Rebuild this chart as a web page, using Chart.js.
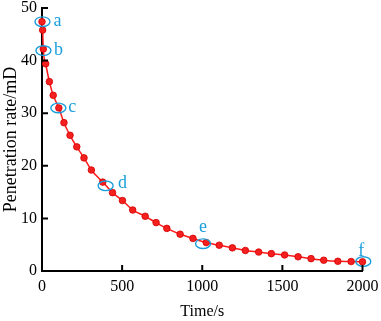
<!DOCTYPE html>
<html>
<head>
<meta charset="utf-8">
<script src="https://cdn.jsdelivr.net/npm/chart.js@4"></script>
<style>
  html, body { margin: 0; padding: 0; background: #fff; }
  #wrap { width: 381px; height: 321px; }
</style>
</head>
<body>
<div id="wrap"><canvas id="rateChart" width="381" height="321"></canvas></div>
<script>
// measured points, time (s) and penetration rate (mD)
const times = [0, 4, 8, 23, 46, 70, 105, 137, 175, 217, 262, 308, 379, 440, 502, 566, 644, 712, 779, 862, 942, 1025, 1106, 1188, 1269, 1352, 1431, 1514, 1598, 1679, 1758, 1846, 1929, 2000];
const rates = [47.4, 45.8, 42.2, 39.4, 36.0, 33.4, 31.0, 28.2, 25.8, 23.6, 21.5, 19.2, 16.9, 14.9, 13.4, 11.6, 10.4, 9.2, 8.1, 7.0, 6.2, 5.4, 4.9, 4.4, 3.9, 3.6, 3.3, 3.05, 2.7, 2.35, 2.05, 1.85, 1.8, 1.75];

// circled points
const markLabels = ['a', 'b', 'c', 'd', 'e', 'f'];
const markTimes = [3, 9, 102, 397, 1005, 2005];
const markRates = [47.4, 41.9, 31.0, 16.2, 5.2, 1.8];

const xTicks = [0, 500, 1000, 1500, 2000];
const yTicks = [0, 10, 20, 30, 40, 50];

const serif = '"Liberation Serif", "Times New Roman", serif';
const cyan = '#1a9edb';

// ticks pointing into the plot
const inwardTicks = {
  id: 'inwardTicks',
  afterDraw(chart) {
    const { ctx, scales: { x, y } } = chart;
    ctx.save();
    ctx.strokeStyle = '#000';
    ctx.lineWidth = 2;
    ctx.beginPath();
    xTicks.forEach(v => {
      if (v === 0) return;
      const px = x.getPixelForValue(v);
      ctx.moveTo(px, y.bottom);
      ctx.lineTo(px, y.bottom - 6);
    });
    yTicks.forEach(v => {
      if (v === 0) return;
      const py = y.getPixelForValue(v);
      ctx.moveTo(x.left, py);
      ctx.lineTo(x.left + 6, py);
    });
    ctx.stroke();
    ctx.restore();
  }
};

// ellipses and letters
const marks = {
  id: 'marks',
  afterDatasetsDraw(chart, args, opts) {
    const { ctx, scales: { x, y } } = chart;
    ctx.save();
    ctx.strokeStyle = cyan;
    ctx.fillStyle = cyan;
    ctx.lineWidth = 1.4;
    ctx.font = '18px ' + serif;
    ctx.textAlign = 'center';
    ctx.textBaseline = 'middle';
    markLabels.forEach((lab, i) => {
      const px = x.getPixelForValue(markTimes[i]);
      const py = y.getPixelForValue(markRates[i]);
      ctx.beginPath();
      ctx.ellipse(px, py, 7.5, 4.8, 0, 0, Math.PI * 2);
      ctx.stroke();
      const off = opts.offsets[i];
      ctx.fillText(lab, px + off[0], py + off[1]);
    });
    ctx.restore();
  }
};

new Chart(document.getElementById('rateChart'), {
  type: 'scatter',
  data: {
    datasets: [{
      data: times.map((t, i) => ({ x: t, y: rates[i] })),
      showLine: true,
      borderColor: '#ff1a1a',
      borderWidth: 1.5,
      tension: 0.3,
      cubicInterpolationMode: 'monotone',
      pointRadius: 3.3,
      pointBackgroundColor: '#f42020',
      pointBorderColor: '#d40000',
      pointBorderWidth: 0.8,
      clip: false
    }]
  },
  options: {
    responsive: false,
    animation: false,
    layout: { padding: { top: 8, right: 18.5, left: 0, bottom: 0 } },
    plugins: {
      legend: { display: false },
      tooltip: { enabled: false },
      marks: { offsets: [[15, 0], [15, 0], [14, -1], [17, -3], [0, -16], [-2, -10]] }
    },
    scales: {
      x: {
        type: 'linear',
        min: 0,
        max: 2000,
        afterBuildTicks: s => { s.ticks = xTicks.map(v => ({ value: v })); },
        afterFit: s => { s.height = 50; s.paddingLeft = 0; s.paddingRight = 0; },
        grid: { display: false, drawTicks: false },
        border: { color: '#000', width: 2 },
        ticks: { color: '#000', padding: 6, maxRotation: 0, font: { family: serif, size: 16 }, callback: v => String(v) },
        title: { display: true, text: 'Time/s', color: '#000', padding: { top: 3, bottom: 0 }, font: { family: serif, size: 16 } }
      },
      y: {
        min: 0,
        max: 50,
        afterBuildTicks: s => { s.ticks = yTicks.map(v => ({ value: v })); },
        afterFit: s => { s.width = 42; s.paddingTop = 0; s.paddingBottom = 0; },
        grid: { display: false, drawTicks: false },
        border: { color: '#000', width: 2 },
        ticks: { color: '#000', padding: 5, font: { family: serif, size: 16 }, callback: v => String(v) },
        title: { display: true, text: 'Penetration rate/mD', color: '#000', padding: 0, font: { family: serif, size: 18 } }
      }
    }
  },
  plugins: [inwardTicks, marks]
});
</script>
</body>
</html>
